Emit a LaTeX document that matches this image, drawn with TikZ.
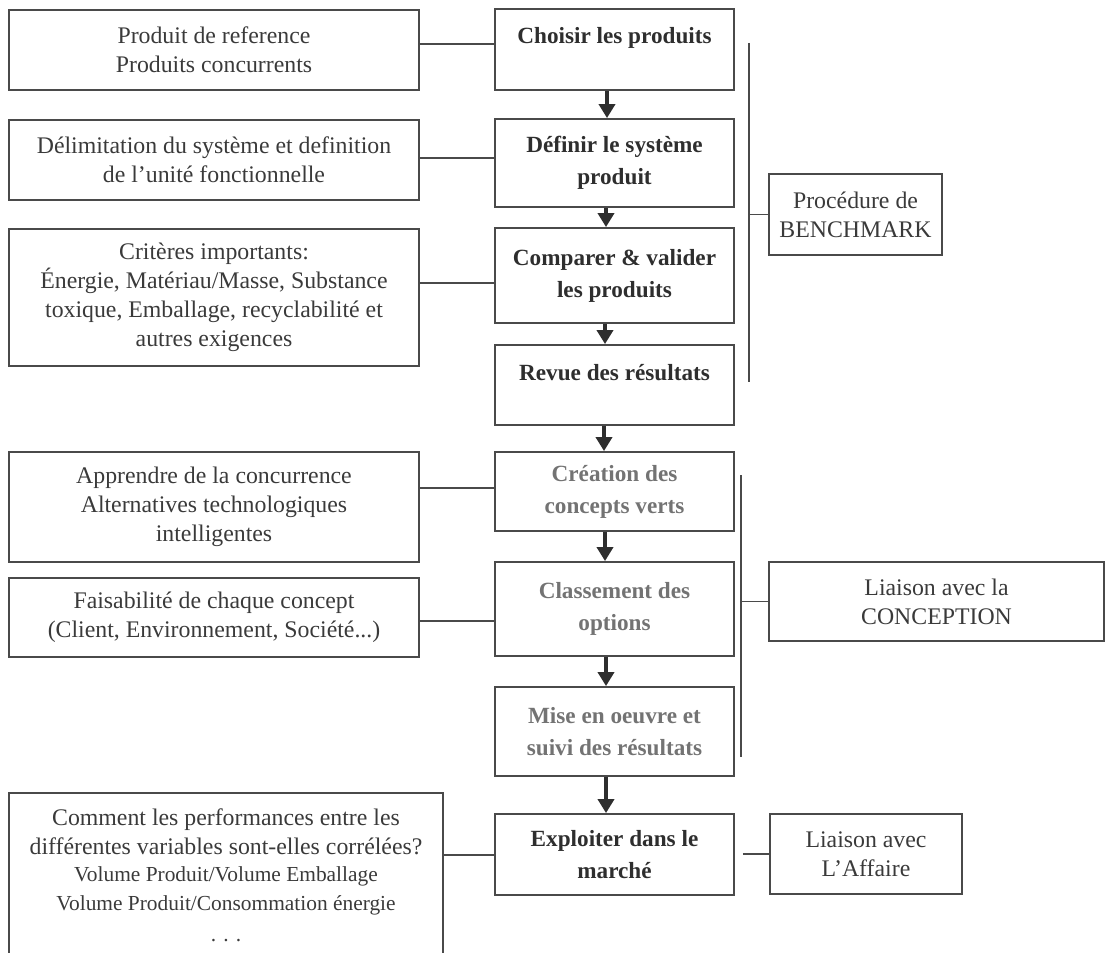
\documentclass[tikz,border=0pt]{standalone}
\usepackage{fontspec}
\setmainfont{Liberation Serif}
\usetikzlibrary{arrows.meta}
\definecolor{ink}{HTML}{4A4A4A}
\definecolor{txt}{HTML}{3A3A3A}
\definecolor{dark}{HTML}{2E2E2E}
\definecolor{dim}{HTML}{737373}
\begin{document}
\begin{tikzpicture}[x=0.5pt,y=-0.5pt,
  box/.style 2 args={draw=ink, line width=0.9pt, inner sep=0pt, align=center,
    minimum width=#1, minimum height=#2},
  sidebox/.style 2 args={box={#1}{#2}, text=txt, font=\fontsize{11.9}{14.5}\selectfont},
  stepbox/.style={box={119.5pt}{#1}, text=dark, font=\fontsize{11.6}{16}\selectfont\bfseries},
  softbox/.style={box={119.5pt}{#1}, text=dim, font=\fontsize{11.6}{16}\selectfont\bfseries},
  steptext/.style={inner sep=0pt, align=center, text=dark, font=\fontsize{11.6}{16}\selectfont\bfseries},
  small/.style={},
  wire/.style={draw=ink, line width=0.9pt},
  flow/.style={draw=dark, line width=2pt, -{Triangle[width=8pt,length=7pt]}}
]
\useasboundingbox (0,0) rectangle (1106,952);
\newcommand\smallline[1]{{\fontsize{10.7}{13.5}\selectfont #1}}

% left column: inputs to each step
\node[sidebox={205pt}{40pt}] (L1) at (214,50) {Produit de reference\\Produits concurrents};
\node[sidebox={205pt}{40pt}] (L2) at (214,160) {Délimitation du système et definition\\de l’unité fonctionnelle};
\node[sidebox={205pt}{68.5pt}] (L3) at (214,297.5) {Critères importants:\\Énergie, Matériau/Masse, Substance\\toxique, Emballage, recyclabilité et\\autres exigences};
\node[sidebox={205pt}{55pt}] (L4) at (214,507) {Apprendre de la concurrence\\Alternatives technologiques\\intelligentes};
\node[sidebox={205pt}{39.5pt}] (L5) at (214,617.5) {Faisabilité de chaque concept\\(Client, Environnement, Société...)};
\node[sidebox={217pt}{82.5pt}] (L6) at (226,875.5) {Comment les performances entre les\\différentes variables sont-elles corrélées?\\[-1pt]
  \smallline{Volume Produit/Volume Emballage}\\
  \smallline{Volume Produit/Consommation énergie}\\[1pt]
  \smallline{. . .}};

% central column: the procedure steps
\node[stepbox={40.5pt}] (M1) at (614.5,49.5) {};
\node[steptext] (M1t) at (614.5,38) {Choisir les produits};
\node[stepbox={44pt}] (M2) at (614.5,163) {Définir le système\\produit};
\node[stepbox={47.5pt}] (M3) at (614.5,275.5) {Comparer \& valider\\les produits};
\node[stepbox={40pt}] (M4) at (614.5,385) {};
\node[steptext] (M4t) at (614.5,373) {Revue des résultats};
\node[softbox={39.5pt}] (M5) at (614.5,491.5) {Création des\\concepts verts};
\node[softbox={47pt}] (M6) at (614.5,609) {Classement des\\options};
\node[softbox={44.5pt}] (M7) at (614.5,731.5) {Mise en oeuvre et\\suivi des résultats};
\node[stepbox={40.5pt}] (M8) at (614.5,854.5) {Exploiter dans le\\marché};

% right column: links
\node[sidebox={86.5pt}{40.5pt}] (bench) at (855.5,214.5) {Procédure de\\BENCHMARK};
\node[sidebox={167.5pt}{39.5pt}] (conc) at (936.5,601.5) {Liaison avec la\\CONCEPTION};
\node[sidebox={96pt}{40pt}] (aff) at (866,854) {Liaison avec\\L’Affaire};

% flow arrows between the steps
\draw[flow] (M1.south -| 607,0) -- (M2.north -| 607,0);
\draw[flow] (M2.south -| 606,0) -- (M3.north -| 606,0);
\draw[flow] (M3.south -| 605,0) -- (M4.north -| 605,0);
\draw[flow] (M4.south -| 604,0) -- (M5.north -| 604,0);
\draw[flow] (M5.south -| 605,0) -- (M6.north -| 605,0);
\draw[flow] (M6.south -| 606,0) -- (M7.north -| 606,0);
\draw[flow] (M7.south -| 606,0) -- (M8.north -| 606,0);

% links from the inputs to the steps
\draw[wire] (L1.east |- 0,44) -- (M1.west |- 0,44);
\draw[wire] (L2.east |- 0,158) -- (M2.west |- 0,158);
\draw[wire] (L3.east |- 0,283) -- (M3.west |- 0,283);
\draw[wire] (L4.east |- 0,488) -- (M5.west |- 0,488);
\draw[wire] (L5.east |- 0,621) -- (M6.west |- 0,621);
\draw[wire] (L6.east |- 0,855) -- (M8.west |- 0,855);

% brackets grouping the steps
\coordinate (b1) at (749,43);
\coordinate (b2) at (749,382);
\draw[wire] (b1) -- (b2);
\draw[wire] (bench.west) -- (bench.west -| b1);
\coordinate (c1) at (741,475);
\coordinate (c2) at (741,757);
\draw[wire] (c1) -- (c2);
\draw[wire] (conc.west) -- (conc.west -| c1);
\draw[wire, shorten <=4pt] (M8.east |- aff.west) -- (aff.west);
\end{tikzpicture}
\end{document}
